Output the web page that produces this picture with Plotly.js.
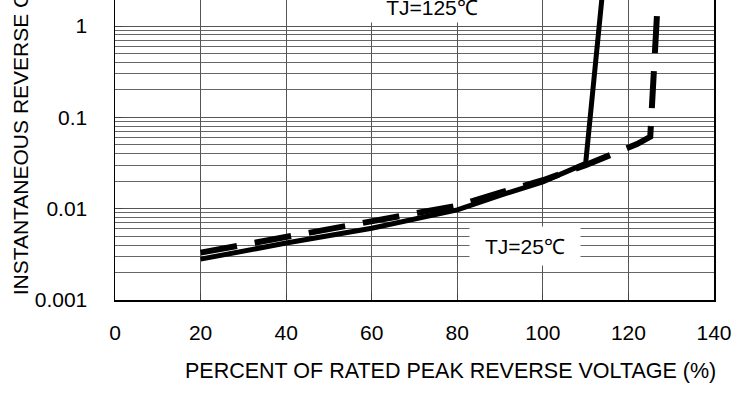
<!DOCTYPE html>
<html>
<head>
<meta charset="utf-8">
<script src="https://cdn.plot.ly/plotly-3.0.1.min.js"></script>
<style>html,body{margin:0;padding:0;background:#fff;}#chart{width:735px;height:398px;}</style>
</head>
<body>
<div id="chart"></div>
<script>
// Percent of rated peak reverse voltage (%)
const solidX = [20, 40, 60, 80, 90, 100, 110, 114];
// Instantaneous reverse current
const solidY = [0.0028, 0.0042, 0.0061, 0.0097, 0.0140, 0.0197, 0.0313, 2.5];
const dashX = [20, 37, 50, 62, 80, 90, 100, 110, 118, 122, 125.1, 127];
const dashY = [0.0033, 0.0046, 0.0060, 0.0075, 0.0108, 0.0150, 0.0205, 0.0300, 0.0420, 0.0510, 0.0613, 2.5];

const xTicks = [0, 20, 40, 60, 80, 100, 120, 140];
const yMajor = [0.001, 0.01, 0.1, 1];
const yMajorText = ['0.001', '0.01', '0.1', '1'];
const yMinor = [];
[0.001, 0.01, 0.1, 1].forEach(d => { for (let k = 2; k <= 9; k++) yMinor.push(+(d * k).toPrecision(3)); });

const labelHi = 'TJ=125℃';
const labelLo = 'TJ=25℃';
const xTitle = 'PERCENT OF RATED PEAK REVERSE VOLTAGE (%)';
const yTitle = 'INSTANTANEOUS REVERSE CURRENT (μA)';

const FONT = '"Liberation Sans", Arial, sans-serif';

const traces = [
  {x: solidX, y: solidY, mode: 'lines', line: {color: '#000', width: 5}, hoverinfo: 'skip'},
  {x: dashX, y: dashY, mode: 'lines', line: {color: '#000', width: 6, dash: '37px,18px'}, hoverinfo: 'skip'}
];

const layout = {
  width: 735, height: 398,
  margin: {l: 115, r: 21, t: 0, b: 98, pad: 0},
  paper_bgcolor: '#fff', plot_bgcolor: '#fff',
  showlegend: false,
  font: {family: FONT, color: '#000', size: 21},
  xaxis: {
    range: [0, 140], tickvals: xTicks, ticktext: xTicks.map(String),
    showgrid: true, gridcolor: '#555', gridwidth: 1,
    showline: true, linecolor: '#000', linewidth: 1.5,
    ticks: 'inside', ticklen: 7, tickcolor: '#444',
    ticklabelstandoff: 13, zeroline: false,
    tickfont: {family: FONT, size: 21, color: '#000'}
  },
  yaxis: {
    type: 'log', range: [-3, 0.285],
    tickvals: yMajor, ticktext: yMajorText,
    showgrid: true, gridcolor: '#555', gridwidth: 1,
    showline: true, mirror: true, linecolor: '#000', linewidth: 1.5,
    ticks: 'inside', ticklen: 8, tickcolor: '#444',
    ticklabelstandoff: 22, zeroline: false,
    tickfont: {family: FONT, size: 21, color: '#000'},
    minor: {tickvals: yMinor, showgrid: true, gridcolor: '#666', gridwidth: 1, ticks: ''}
  },
  annotations: [
    {text: labelLo, xref: 'x', yref: 'y', x: 95.9, y: -2.404, showarrow: false,
     bgcolor: '#fff', width: 110, height: 38, borderpad: 0,
     font: {family: FONT, size: 21, color: '#000'}},
    {text: labelHi, xref: 'x', yref: 'y', x: 74.1, y: 0.208, showarrow: false,
     bgcolor: '#fff', width: 200, height: 30, borderpad: 0,
     font: {family: FONT, size: 21, color: '#000'}},
    {text: xTitle, xref: 'paper', yref: 'paper', x: 0.560, y: -0.237, xanchor: 'center', yanchor: 'middle',
     showarrow: false, font: {family: FONT, size: 21.5, color: '#000'}},
    {text: yTitle, xref: 'paper', yref: 'paper', x: -0.158, y: 0.01, xanchor: 'center', yanchor: 'bottom',
     textangle: -90, showarrow: false, font: {family: FONT, size: 21, color: '#000'}}
  ]
};

Plotly.newPlot('chart', traces, layout, {staticPlot: true, displayModeBar: false});
</script>
</body>
</html>
